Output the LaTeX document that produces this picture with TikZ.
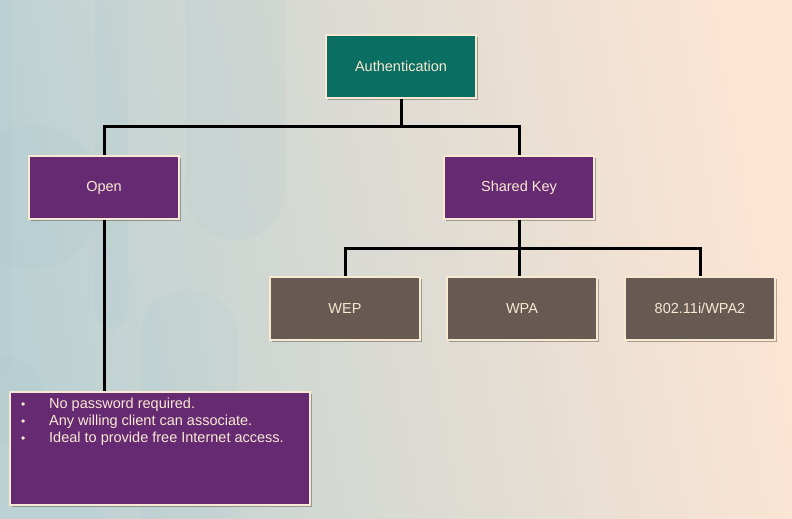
\documentclass[tikz,border=0pt]{standalone}
\usepackage{fontspec}
\setmainfont{Liberation Sans}
\usetikzlibrary{shadows}
\definecolor{tealbox}{HTML}{0B6E63}
\definecolor{purplebox}{HTML}{652A72}
\definecolor{brownbox}{HTML}{675A52}
\definecolor{cream}{HTML}{F8E9D2}
\definecolor{bgL}{HTML}{BCD1D3}
\definecolor{bgR}{HTML}{FDE5D3}
\definecolor{bgstripe}{HTML}{9CC3CB}
\pgfdeclarelayer{bg}
\pgfdeclarelayer{lines}
\pgfsetlayers{bg,lines,main}
\newcommand{\bul}{\makebox[28pt][l]{\fontsize{12}{12}\selectfont\textbullet}}
\tikzset{
  box/.style={rectangle, draw=cream, line width=2.5pt, text=cream,
    minimum width=150pt, minimum height=63pt, inner sep=0pt,
    font=\fontsize{14.5}{17}\selectfont,
    drop shadow={shadow xshift=2pt, shadow yshift=-2pt, opacity=0.3, fill=black}},
  conn/.style={line width=3pt, black},
  stripe/.style={fill=bgstripe, opacity=0.1, draw=none}
}
\begin{document}
\begin{tikzpicture}[x=1pt,y=-1pt]
\useasboundingbox (0,0) rectangle (792,519);
\begin{pgfonlayer}{bg}
  \shade[left color=bgL, right color=bgR, shading angle=100] (0,0) rectangle (792,519);
  \begin{scope}
    \clip (0,0) rectangle (792,519);
    \fill[stripe, rounded corners=48pt] (185,-60) rectangle (285,240);
    \fill[stripe] (32,197) circle (72);
    \fill[stripe, rounded corners=48pt] (140,290) rectangle (238,600);
    \fill[stripe] (0,400) circle (45);
    \fill[stripe, rounded corners=20pt] (-40,-40) rectangle (12,380);
    \fill[stripe, rounded corners=20pt] (95,-60) rectangle (128,330);
  \end{scope}
\end{pgfonlayer}

\node[box, fill=tealbox] (auth) at (401,66.5) {Authentication};
\node[box, fill=purplebox] (open) at (104,187.5) {Open};
\node[box, fill=purplebox] (shared) at (519,187.5) {Shared Key};
\node[box, fill=brownbox] (wep) at (345,308.5) {WEP};
\node[box, fill=brownbox] (wpa) at (522,308.5) {WPA};
\node[box, fill=brownbox] (wpa2) at (700,308.5) {802.11i/WPA2};
\node[box, fill=purplebox, minimum width=300pt, minimum height=113pt] (notes) at (160,448.5) {};
\node[anchor=north west, text=cream, inner sep=0pt, align=left,
  font=\fontsize{14.5}{17}\selectfont] (notestext) at (21,398)
  {\bul No password required.\\
   \bul Any willing client can associate.\\
   \bul Ideal to provide free Internet access.};

\coordinate (j1) at (401,126);
\coordinate (j2) at (519,248);
\begin{pgfonlayer}{lines}
  \draw[conn] (auth.south) -- (j1);
  \draw[conn] (open.north) |- (j1) -| (shared.north);
  \draw[conn] (shared.south) -- (j2);
  \draw[conn] (wep.north) |- (j2) -| (wpa2.north);
  \draw[conn] (j2) -- (j2 |- wpa.north);
  \draw[conn] (open.south) -- (open.south |- notes.north);
\end{pgfonlayer}
\end{tikzpicture}
\end{document}
